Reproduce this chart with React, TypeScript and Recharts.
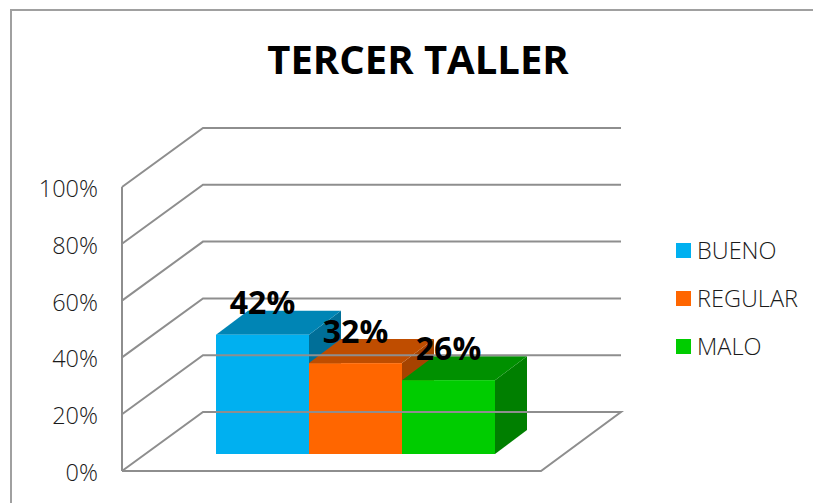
import { BarChart, Bar, XAxis, YAxis, Legend, LabelList } from "recharts";

const categories = ["TERCER TALLER"];
const seriesNames = ["BUENO", "REGULAR", "MALO"];
const seriesValues = [[0.42], [0.32], [0.26]];
const tickValues = [0, 0.2, 0.4, 0.6, 0.8, 1];

const chartData = categories.map((name, i) => {
  const row: Record<string, string | number> = { name };
  seriesNames.forEach((s, j) => {
    row[s] = seriesValues[j][i];
  });
  return row;
});

const frontColors = ["#00b0f0", "#ff6600", "#00cc00"];
const topColors = ["#0085b5", "#bf4d00", "#009000"];
const sideColors = ["#006f98", "#a64300", "#007f00"];

const lineColor = "#8e8e8e";
const wallDx = 81;
const wallDy = -59;
// bars stand in the middle of the floor
const barDx = 24;
const barDy = -17;
const depthX = 32;
const depthY = -24;
const font = "'Open Sans', sans-serif";

const makeBox = (idx: number) => (props: any) => {
  const x = props.x + barDx;
  const y = props.y + barDy;
  const w = props.width;
  const h = props.height;
  const r = x + w;
  const b = y + h;
  return (
    <g>
      <polygon points={`${r},${y} ${r + depthX},${y + depthY} ${r + depthX},${b + depthY} ${r},${b}`} fill={sideColors[idx]} />
      <polygon points={`${x},${y} ${x + depthX},${y + depthY} ${r + depthX},${y + depthY} ${r},${y}`} fill={topColors[idx]} />
      <rect x={x} y={y} width={w} height={h} fill={frontColors[idx]} />
    </g>
  );
};

const WallTick = (props: any) => {
  const { x, y, payload } = props;
  const left = x;
  const isFloor = payload.value === 0;
  return (
    <g>
      <polyline
        points={
          isFloor
            ? `${left},${y} ${left + wallDx},${y + wallDy} 621,${y + wallDy} 541,${y} ${left},${y}`
            : `${left},${y} ${left + wallDx},${y + wallDy} 621,${y + wallDy}`
        }
        fill="none"
        stroke={lineColor}
        strokeWidth={2}
      />
      <text x={98} y={y + 1} textAnchor="end" dominantBaseline="central" fontSize={23.5} fontWeight={300} fill="#1a1a1a" fontFamily={font}>
        {Math.round(payload.value * 100)}%
      </text>
    </g>
  );
};

const BoxLabel = (props: any) => {
  const { x, y, width, value } = props;
  return (
    <text x={x + barDx + width / 2} y={y + barDy - 33} textAnchor="middle" dominantBaseline="central" fontSize={32} fontWeight={700} fill="#000" fontFamily={font}>
      {Math.round(value * 100)}%
    </text>
  );
};

const LegendBox = (props: any) => (
  <div>
    {props.payload.map((p: any) => (
      <div key={p.value} style={{ display: "flex", alignItems: "center", height: 48 }}>
        <span style={{ width: 15, height: 15, background: p.color, marginRight: 6 }} />
        <span style={{ fontFamily: font, fontSize: 23.5, fontWeight: 300, color: "#1a1a1a" }}>{p.value}</span>
      </div>
    ))}
  </div>
);

const App = () => (
  <div style={{ position: "fixed", left: 0, top: 0, width: 813, height: 503, background: "#fff" }}>
    <div style={{ position: "absolute", left: 10, top: 9, right: 0, bottom: 0, borderLeft: "2px solid #a0a0a0", borderTop: "2px solid #a0a0a0" }} />
    <BarChart
      width={813}
      height={503}
      data={chartData}
      margin={{ top: 187, right: 135, bottom: 32, left: 0 }}
      barGap={0}
      barSize={93}
      style={{ position: "absolute", left: 0, top: 0 }}
    >
      <text x={418} y={58} textAnchor="middle" dominantBaseline="central" fontSize={40} fontWeight={700} fill="#000" fontFamily={font}>
        {categories[0]}
      </text>
      <XAxis dataKey="name" height={0} tick={false} tickLine={false} axisLine={false} />
      <YAxis
        width={122}
        domain={[0, 1]}
        ticks={tickValues}
        tick={<WallTick />}
        tickLine={false}
        tickSize={0}
        tickMargin={0}
        axisLine={{ stroke: lineColor, strokeWidth: 2 }}
      />
      <Legend
        layout="vertical"
        align="right"
        verticalAlign="middle"
        itemSorter={null}
        content={<LegendBox />}
        wrapperStyle={{ position: "absolute", left: 676, top: 226, width: 137, bottom: "auto" }}
      />
      {seriesNames.map((s, i) => (
        <Bar key={s} dataKey={s} name={s} fill={frontColors[i]} shape={makeBox(i)} isAnimationActive={false}>
          <LabelList dataKey={s} content={<BoxLabel />} />
        </Bar>
      ))}
    </BarChart>
  </div>
);

export default App;
